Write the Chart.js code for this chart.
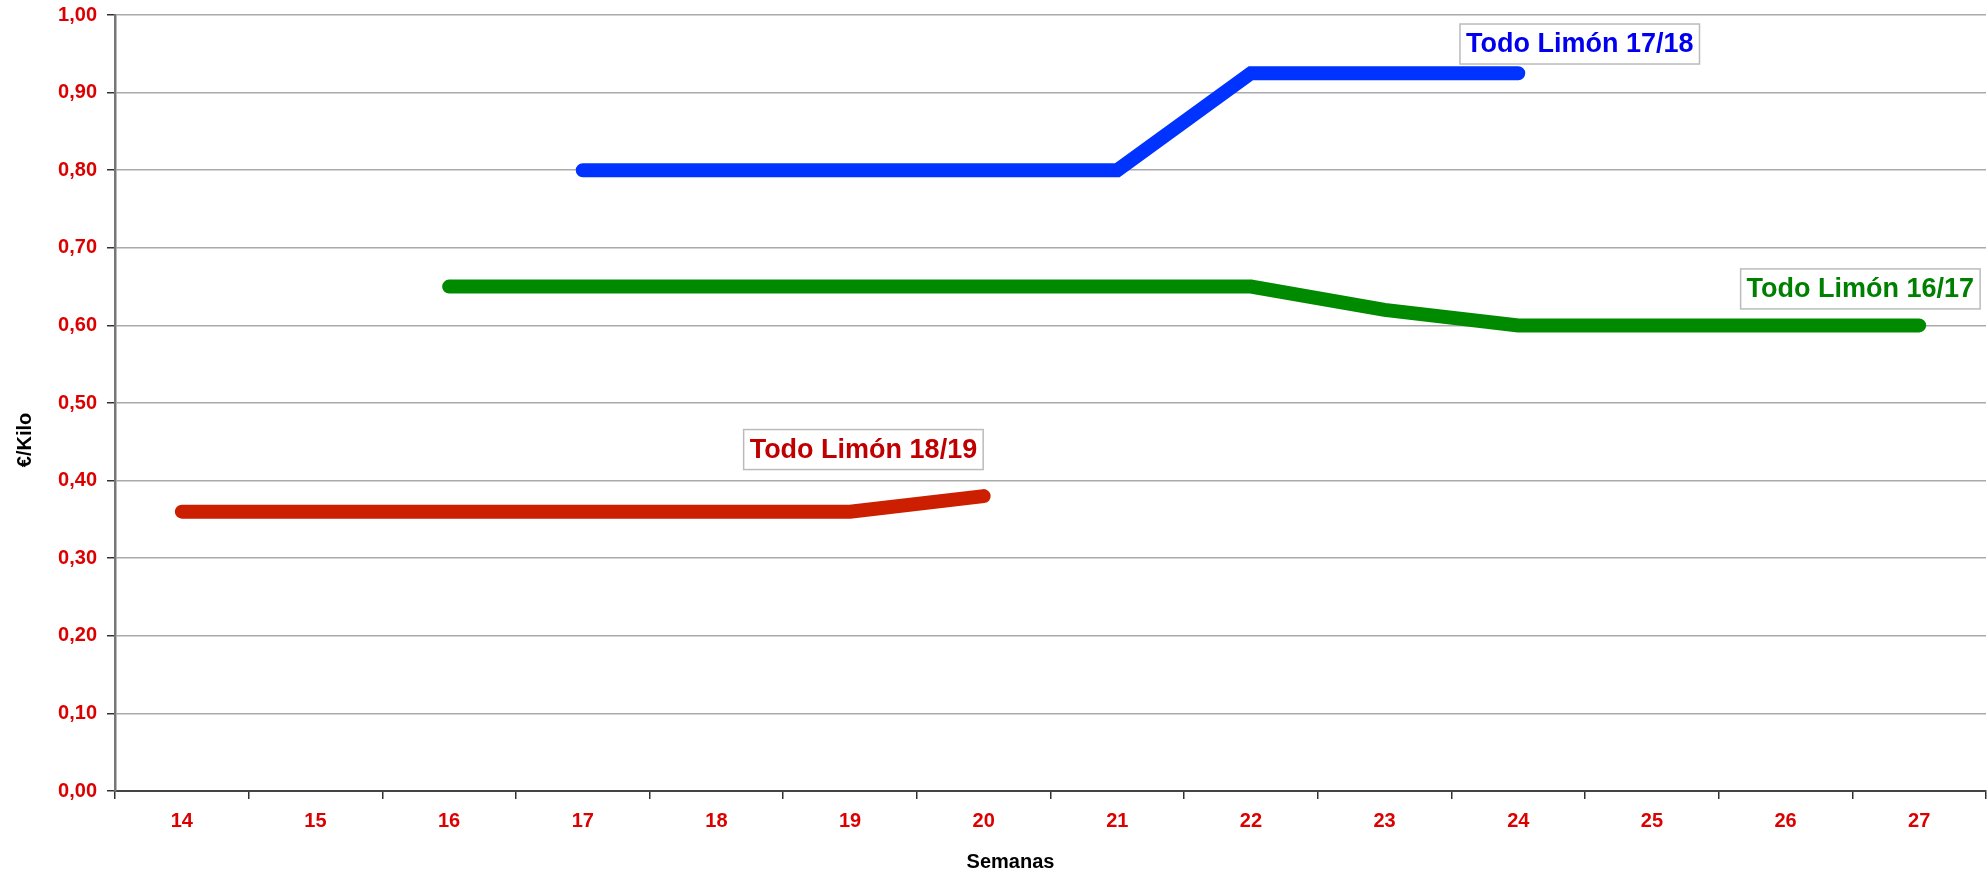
<!DOCTYPE html>
<html>
<head>
<meta charset="utf-8">
<script src="https://cdn.jsdelivr.net/npm/chart.js@4/dist/chart.umd.min.js"></script>
<style>
html,body{margin:0;padding:0;background:#fff;}
#wrap{width:1988px;height:875px;position:relative;}
</style>
</head>
<body>
<div id="wrap"><canvas id="c" width="1988" height="875"></canvas></div>
<script>
const weeks = ['14','15','16','17','18','19','20','21','22','23','24','25','26','27'];
const limon1819 = [0.36,0.36,0.36,0.36,0.36,0.36,0.38,null,null,null,null,null,null,null];
const limon1718 = [null,null,null,0.80,0.80,0.80,0.80,0.80,0.925,0.925,0.925,null,null,null];
const limon1617 = [null,null,0.65,0.65,0.65,0.65,0.65,0.65,0.65,0.62,0.60,0.60,0.60,0.60];
const yTickLabels = ['0,00','0,10','0,20','0,30','0,40','0,50','0,60','0,70','0,80','0,90','1,00'];
const seriesNames = ['Todo Limón 18/19','Todo Limón 17/18','Todo Limón 16/17'];
const xTitle = 'Semanas';
const yTitle = '€/Kilo';
// label anchor positions (category index, value)
const labelIdx = [5.10, 10.46, 12.56];
const labelVal = [0.440, 0.9626, 0.647];
const lineColors = ['#cc1f00','#0033ff','#008a00'];
const textColors = ['#c00000','#0000ee','#008000'];

const FONT = '"Liberation Sans", Arial, sans-serif';

const labelPlugin = {
  id:'seriesLabels',
  afterDraw(chart){
    const ctx = chart.ctx, xs = chart.scales.x, ys = chart.scales.y, ca = chart.chartArea;
    ctx.save();
    ctx.fillStyle = '#000';
    ctx.font = 'bold 20px ' + FONT;
    ctx.textAlign = 'center';
    ctx.textBaseline = 'middle';
    ctx.fillText(xTitle, (ca.left + ca.right)/2 - 40, ca.bottom + 71);
    ctx.save();
    ctx.translate(25, (ca.top + ca.bottom)/2 + 37);
    ctx.rotate(-Math.PI/2);
    ctx.fillText(yTitle, 0, 0);
    ctx.restore();
    ctx.font = 'bold 27px ' + FONT;
    for(let i=0;i<seriesNames.length;i++){
      const cx = xs.getPixelForValue(labelIdx[i]);
      const cy = ys.getPixelForValue(labelVal[i]);
      const w = ctx.measureText(seriesNames[i]).width + 12;
      const h = 40;
      ctx.fillStyle = '#fff';
      ctx.fillRect(cx-w/2, cy-h/2, w, h);
      ctx.strokeStyle = '#bbbbbb';
      ctx.lineWidth = 1.5;
      ctx.strokeRect(cx-w/2, cy-h/2, w, h);
      ctx.fillStyle = textColors[i];
      ctx.fillText(seriesNames[i], cx, cy+1);
    }
    ctx.restore();
  }
};

const mk = (i, data) => ({
  label: seriesNames[i], data, borderColor: lineColors[i], backgroundColor: lineColors[i],
  borderWidth: 14, borderCapStyle:'round', borderJoinStyle:'miter',
  pointRadius:0, pointHoverRadius:0, spanGaps:false, tension:0, fill:false
});

new Chart(document.getElementById('c'), {
  type:'line',
  data:{ labels: weeks, datasets:[ mk(0,limon1819), mk(1,limon1718), mk(2,limon1617) ] },
  options:{
    responsive:false, animation:false, events:[],
    layout:{ padding:{ top:15, right:2, left:0, bottom:0 } },
    plugins:{ legend:{display:false}, tooltip:{enabled:false} },
    scales:{
      x:{
        type:'category', offset:true,
        grid:{ offset:true, drawOnChartArea:false, drawTicks:true, tickLength:8, color:'#333', lineWidth:1.5 },
        border:{ display:true, color:'#444', width:2 },
        ticks:{ color:'#dd0000', font:{ family:FONT, size:20, weight:'bold' }, padding:10, maxRotation:0, autoSkip:false },
        afterFit(s){ s.height = 84; }
      },
      y:{
        min:0, max:1,
        ticks:{ stepSize:0.1, color:'#dd0000', font:{ family:FONT, size:20, weight:'bold', lineHeight:0.4 }, padding:10,
          callback:(v,i)=> yTickLabels[i] },
        grid:{ color:'#aaaaaa', lineWidth:1.5, drawTicks:true, tickLength:8, tickColor:'#333' },
        border:{ display:true, color:'#777', width:2.5 },
        afterFit(s){ s.width = 115; }
      }
    }
  },
  plugins:[labelPlugin]
});
</script>
</body>
</html>
